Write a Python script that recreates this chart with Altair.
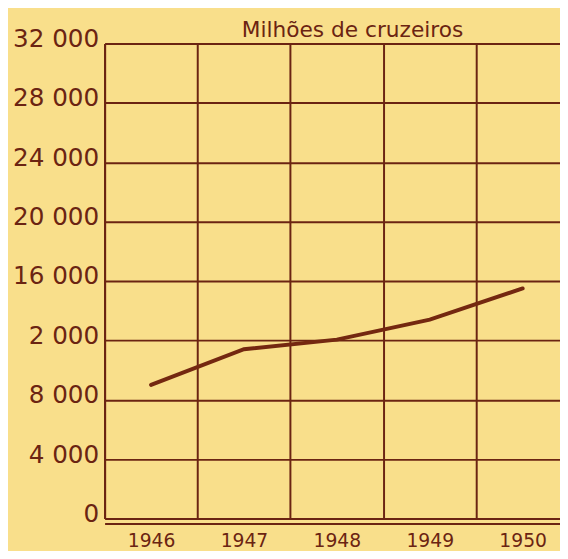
import altair as alt
import pandas as pd

# Data
years = [1946, 1947, 1948, 1949, 1950]
values = [9000, 11400, 12050, 13400, 15500]

y_ticks = [0, 4000, 8000, 12000, 16000, 20000, 24000, 28000, 32000]
y_labels = ["0", "4 000", "8 000", "2 000", "16 000", "20 000", "24 000", "28 000", "32 000"]
x_ticks = [1945.5, 1946, 1946.5, 1947, 1947.5, 1948, 1948.5, 1949, 1949.5, 1950]
unit_title = "Milhões de cruzeiros"

BG = "#f9df8b"
INK = "#6b2412"
LINE = "#742810"
FONT = "DejaVu Sans"

df = pd.DataFrame({"ano": years, "valor": values})

ticks_js = "[" + ",".join(str(v) for v in y_ticks) + "]"
labels_js = "[" + ",".join("'" + s + "'" for s in y_labels) + "]"
y_label_expr = f"{labels_js}[indexof({ticks_js}, datum.value)]"

chart = alt.Chart(df).mark_line(color=LINE, strokeWidth=4, strokeCap="round").encode(
    x=alt.X(
        "ano:Q",
        scale=alt.Scale(domain=[1945.5, 1950.402], nice=False, zero=False),
        axis=alt.Axis(
            values=x_ticks,
            labelExpr="datum.value % 1 == 0 ? '' + datum.value : ''",
            grid=True,
            gridColor=INK,
            gridWidth=2,
            gridOpacity={"condition": {"test": "datum.value % 1 != 0", "value": 1}, "value": 0},
            ticks=False,
            domain=True,
            domainColor=INK,
            domainWidth=2,
            offset=5,
            labelPadding=8,
            labelFont=FONT,
            labelFontSize=19,
            labelColor=INK,
            labelFlush=False,
            labelOverlap=False,
            title=None,
        ),
    ),
    y=alt.Y(
        "valor:Q",
        scale=alt.Scale(domain=[0, 32000], nice=False),
        axis=alt.Axis(
            values=y_ticks,
            labelExpr=y_label_expr,
            grid=True,
            gridColor=INK,
            gridWidth=2,
            ticks=False,
            domain=True,
            domainColor=INK,
            domainWidth=2,
            labelPadding=6,
            labelOffset=-5,
            labelFont=FONT,
            labelFontSize=25,
            labelColor=INK,
            labelBaseline="middle",
            labelOverlap=False,
            labelFlush=False,
            title=unit_title,
            titleAngle=0,
            titleX=251,
            titleY=-7,
            titleAlign="center",
            titleBaseline="alphabetic",
            titleFont=FONT,
            titleFontSize=22,
            titleFontWeight="normal",
            titleColor=INK,
        ),
    ),
).properties(
    width=462,
    height=482,
    padding={"left": 98, "top": 32, "right": 0, "bottom": 29},
    autosize="none",
    background=BG,
).configure_view(strokeWidth=0)

chart.save("out.html", embed_options={"renderer": "svg", "actions": False})
